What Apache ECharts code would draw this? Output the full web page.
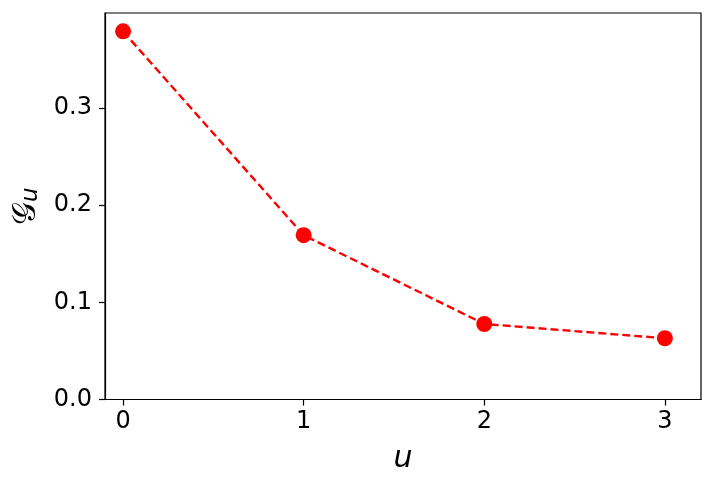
<!DOCTYPE html>
<html><head><meta charset="utf-8">
<script src="https://cdn.jsdelivr.net/npm/echarts@6/dist/echarts.min.js"></script>
<style>html,body{margin:0;padding:0;background:#fff}#c{width:714px;height:489px}</style>
</head><body><div id="c"></div>
<script>
const uValues = [0, 1, 2, 3];
const gValues = [0.3787, 0.169, 0.0777, 0.063];
const xTicks = [0, 1, 2, 3];
const yTicks = [0, 0.1, 0.2, 0.3];

const chart = echarts.init(document.getElementById('c'), null, {renderer: 'canvas'});
const font = 'DejaVu Sans';
chart.setOption({
  animation: false,
  grid: {left: 105, top: 13, right: 13, bottom: 89.5, show: false},
  xAxis: {
    type: 'value', min: -0.1, max: 3.2,
    name: 'u', nameLocation: 'middle', nameGap: 45,
    nameTextStyle: {fontFamily: font, fontStyle: 'italic', fontSize: 30, color: '#000'},
    axisLine: {show: true, onZero: false, lineStyle: {color: '#000', width: 1.2}},
    axisTick: {show: true, length: 6, lineStyle: {color: '#000', width: 1.2}, customValues: xTicks},
    axisLabel: {fontFamily: font, fontSize: 24, color: '#000', margin: 10, customValues: xTicks, formatter: v => String(v)},
    splitLine: {show: false}
  },
  yAxis: {
    type: 'value', min: 0, max: 0.3976,
    name: '{g|𝒢}{s|u}', nameLocation: 'middle', nameGap: 58, nameRotate: 90,
    nameTextStyle: {rich: {
      g: {fontFamily: 'DejaVu Sans, Noto Sans', fontSize: 32, color: '#000'},
      s: {fontFamily: font, fontStyle: 'italic', fontSize: 23, color: '#000', verticalAlign: 'bottom'}
    }},
    axisLine: {show: true, onZero: false, lineStyle: {color: '#000', width: 1.2}},
    axisTick: {show: true, length: 6, lineStyle: {color: '#000', width: 1.2}, customValues: yTicks},
    axisLabel: {fontFamily: font, fontSize: 24, color: '#000', margin: 13, customValues: yTicks, formatter: v => v.toFixed(1)},
    splitLine: {show: false}
  },
  series: [{
    type: 'line',
    data: uValues.map((u, i) => [u, gValues[i]]),
    symbol: 'circle', symbolSize: 16,
    itemStyle: {color: '#ff0000'},
    lineStyle: {color: '#ff0000', width: 2.4, type: [8, 4]},
    z: 3
  }],
  graphic: [{
    type: 'rect', shape: {x: 105, y: 13, width: 596, height: 386.5},
    style: {fill: 'none', stroke: '#000', lineWidth: 1.2}, silent: true, z: 10
  }]
});
</script></body></html>
